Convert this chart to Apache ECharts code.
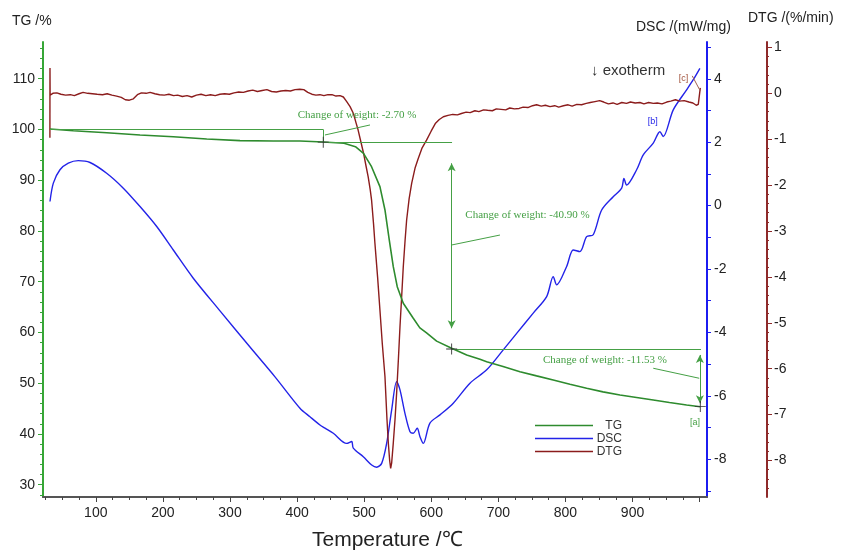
<!DOCTYPE html>
<html><head><meta charset="utf-8">
<script src="https://cdn.jsdelivr.net/npm/echarts@6/dist/echarts.min.js"></script>
<style>html,body{margin:0;padding:0;background:#fff}#c{width:845px;height:557px}</style>
</head><body><div id="c"></div>
<script>
// ---- data (temperature in °C) ----
const tgTemp = [31.7,66.5,116.2,165.9,215.5,265.3,314.9,364.5,404.3,439,470,487,499,511,523.5,531,537.4,543.4,549.3,558.3,573.2,583,593,608,630.4,652.8,672.6,682.6,707,732.2,757,781.8,806.7,831.6,856,881.3,906,930.9,955,980.6,1001];
const tgVal  = [100.1,99.76,99.37,98.92,98.58,98.13,97.8,97.73,97.73,97.54,97.28,96.61,95.31,92.67,88.73,84.14,78.23,72.97,69.03,65.75,62.8,60.9,59.9,58.3,56.89,55.57,54.72,54.25,53.3,52.28,51.45,50.64,49.8,49.0,48.3,47.68,47.2,46.7,46.2,45.71,45.38];

const dscTemp = [31.7,36.7,46.6,59,73.9,91.4,116.2,141,165.9,190.8,215.5,245.3,285.1,329.8,367.1,404.3,419.2,434.1,441.6,454,473.9,481.4,483.8,498.7,511.2,518.6,526.1,533.5,541,548.4,553.4,560.8,568.3,573.2,579.1,583.2,588.1,598,613,632.8,657.7,682.6,707.3,727.3,752,772,781.8,786.9,801.8,811.6,821.6,831.6,841.4,854,871.2,883.8,887.2,891.2,906.1,916,930.9,940.8,945.7,960.7,980.6,990.5,1000.4];
const dscVal  = [0.13,0.71,1.13,1.34,1.42,1.36,1.02,0.55,-0.03,-0.66,-1.40,-2.29,-3.32,-4.46,-5.40,-6.39,-6.66,-6.92,-7.02,-7.18,-7.50,-7.44,-7.65,-7.92,-8.18,-8.25,-8.13,-7.50,-6.44,-5.55,-5.81,-6.55,-7.13,-7.18,-7.02,-7.29,-7.50,-6.86,-6.60,-6.23,-5.60,-5.18,-4.55,-4.03,-3.39,-2.87,-2.24,-2.50,-1.92,-1.40,-1.45,-0.98,-0.92,-0.14,0.28,0.55,0.86,0.65,1.13,1.60,1.97,2.33,2.18,3.02,3.65,3.97,4.33];

const dtgTemp = [31.6,31.7,31.9,36,42,48,55,62,68,75,81,88,95,102,110,117,124,131,138,144,150,156,162,168,175,181,188,195,202,209,216,222,229,236,243,250,257,264,271,278,285,292,299,306,313,320,327,334,341,348,355,362,369,376,383,390,397,404,410,416,422,428,434,440,446,452,458,464,469,474,479,484,488,491,495,499,503,506,509,511,514,516,520,523.5,527,531,534,536,538,539.5,541,543.4,546,548.4,551,553.4,556,558.3,561,563.3,567,570.8,576,580.6,586,593,600,606,612,618,625,632,639,645,652,658,665,671,678,684,691,697,704,711,717,724,731,737,744,751,757,764,770,777,784,790,797,804,810,817,824,831,837,844,851,857,864,871,877,884,891,897,904,911,917,924,931,937,944,951,957,964,970,977,984,990,995,998,1000,1001];
const dtgVal  = [-0.97,0.55,-0.04,0.0,0.01,-0.02,-0.04,-0.03,-0.05,-0.01,0.02,0.0,-0.01,-0.02,-0.03,-0.01,-0.04,-0.06,-0.09,-0.14,-0.15,-0.12,-0.03,0.01,0.0,0.02,-0.01,-0.03,-0.04,-0.02,-0.05,-0.04,-0.07,-0.05,-0.08,-0.04,-0.02,-0.05,-0.03,-0.05,-0.02,-0.01,-0.02,0.01,0.03,0.02,0.05,0.07,0.04,0.06,0.08,0.04,0.03,0.05,0.06,0.05,0.08,0.09,0.08,0.02,-0.02,-0.04,-0.03,-0.05,-0.03,-0.03,-0.06,-0.05,-0.08,-0.18,-0.29,-0.44,-0.65,-0.80,-1.05,-1.30,-1.60,-1.82,-2.1,-2.32,-2.85,-3.26,-4.0,-4.72,-5.45,-6.17,-7.1,-7.62,-8.0,-8.17,-8.05,-7.62,-7.1,-6.53,-5.8,-5.08,-4.4,-3.78,-3.2,-2.76,-2.3,-1.96,-1.62,-1.42,-1.2,-1.02,-0.82,-0.66,-0.57,-0.51,-0.48,-0.46,-0.47,-0.44,-0.41,-0.42,-0.38,-0.40,-0.36,-0.37,-0.38,-0.34,-0.35,-0.36,-0.32,-0.34,-0.33,-0.30,-0.31,-0.27,-0.25,-0.28,-0.26,-0.29,-0.27,-0.30,-0.27,-0.25,-0.28,-0.24,-0.25,-0.22,-0.20,-0.18,-0.16,-0.19,-0.23,-0.21,-0.24,-0.20,-0.22,-0.19,-0.21,-0.20,-0.23,-0.20,-0.22,-0.21,-0.23,-0.19,-0.17,-0.14,-0.17,-0.16,-0.19,-0.21,-0.26,-0.24,-0.2,0.12];

// ---- axis ticks / labels ----
const xLabels = [100,200,300,400,500,600,700,800,900];
const xMajorTicks = [100,200,300,400,500,600,700,800,900,1000];
const xMinorTicks = [25,50,75,125,150,175,225,250,275,325,350,375,425,450,475,525,550,575,625,650,675,725,750,775,825,850,875,925,950,975];
const tgLabels = [30,40,50,60,70,80,90,100,110];
const tgMinor = [28,32,34,36,38,42,44,46,48,52,54,56,58,62,64,66,68,72,74,76,78,82,84,86,88,92,94,96,98,102,104,106,108,112,114,116];
const dscLabels = [-8,-6,-4,-2,0,2,4];
const dscTicks = [-9,-8,-7,-6,-5,-4,-3,-2,-1,0,1,2,3,4,5];
const dtgLabels = [-8,-7,-6,-5,-4,-3,-2,-1,0,1];
const dtgMinor = [];
for (let v = -8.6; v <= 1.01; v += 0.2) { const r = Math.round(v*10)/10; if (Math.abs(r - Math.round(r)) > 0.01) dtgMinor.push(r); }

// ---- annotations ----
const annoText = ['Change of weight: -2.70 %','Change of weight: -40.90 %','Change of weight: -11.53 %'];

const zip = (a,b) => a.map((x,i)=>[x,b[i]]);

const cTG = '#2e8b2e', cTGaxis = '#36a636', cAnno = '#45a045';
const cDSC = '#2323e8', cDSCaxis = '#1c1cf0';
const cDTG = '#8b1c1c', cDTGaxis = '#8e2a2a';
const sans = 'Liberation Sans, Arial, sans-serif';
const serif = 'Liberation Serif, Times New Roman, serif';

const X0 = 21.3, X1 = 1011;
const TG0 = 27.58, TG1 = 117.24;
const DSC0 = -9.19, DSC1 = 5.16;
const DTG0 = -8.795, DTG1 = 1.118;

const lbl = {fontFamily: sans, fontSize: 14, color: '#222'};
const plainLine = (a,b) => [{coord:a},{coord:b}];
const textPt = (coord, text, color, size, font) => ({
  coord, symbol:'rect', symbolSize:1, itemStyle:{color:'rgba(0,0,0,0)'},
  label:{show:true, position:'inside', formatter:text, color, fontSize:size, fontFamily:font}
});
const crossSym = 'path://M4.6,0H5.4V10H4.6Z M0,4.6H10V5.4H0Z';

const chart = echarts.init(document.getElementById('c'), null, {renderer:'canvas'});
chart.setOption({
  animation: false,
  backgroundColor: '#fff',
  grid: {left: 43, right: 138, top: 42, bottom: 60, containLabel: false},
  legend: {
    orient: 'vertical', left: 530, top: 414, itemGap: 0,
    icon: 'rect', itemWidth: 58, itemHeight: 1.5,
    data: ['TG','DSC','DTG'],
    formatter: '{a|{name}}',
    textStyle: {fontFamily: sans, fontSize: 12, color:'#333', lineHeight: 13,
      rich: {a: {width: 24, align: 'right', fontFamily: sans, fontSize: 12, color:'#333'}}}
  },
  graphic: [
    {type:'text', left: 12, top: 14, style:{text:'TG /%', font:'14px '+sans, fill:'#222'}},
    {type:'text', left: 636, top: 20, style:{text:'DSC /(mW/mg)', font:'14px '+sans, fill:'#222'}},
    {type:'text', left: 748, top: 11, style:{text:'DTG /(%/min)', font:'14px '+sans, fill:'#222'}},
    {type:'text', left: 312, top: 530, style:{text:'Temperature /℃', font:'21px '+sans, fill:'#222'}},
    {type:'text', left: 591, top: 63, style:{text:'↓ exotherm', font:'15px '+sans, fill:'#333'}}
  ],
  xAxis: [
    {type:'value', min: X0, max: X1, position:'bottom',
     axisLine:{show:true, onZero:false, lineStyle:{color:'#555', width:2}},
     axisTick:{show:true, customValues: xMajorTicks, length:5, lineStyle:{color:'#444'}},
     axisLabel:{customValues: xLabels, margin: 9, ...lbl},
     splitLine:{show:false}},
    {type:'value', min: X0, max: X1, position:'bottom',
     axisLine:{show:false, onZero:false},
     axisTick:{show:true, customValues: xMinorTicks, length:3, lineStyle:{color:'#444'}},
     axisLabel:{show:false}, splitLine:{show:false}}
  ],
  yAxis: [
    {type:'value', min: TG0, max: TG1, position:'left',
     axisLine:{show:true, onZero:false, lineStyle:{color:cTGaxis, width:2}},
     axisTick:{show:true, customValues: tgLabels, length:5, lineStyle:{color:cTGaxis}},
     axisLabel:{customValues: tgLabels, margin: 8, ...lbl},
     splitLine:{show:false}},
    {type:'value', min: DSC0, max: DSC1, position:'right',
     axisLine:{show:true, onZero:false, lineStyle:{color:cDSCaxis, width:2}},
     axisTick:{show:true, customValues: dscTicks, length:4, lineStyle:{color:cDSCaxis}},
     axisLabel:{customValues: dscLabels, margin: 7, ...lbl},
     splitLine:{show:false}},
    {type:'value', min: DTG0, max: DTG1, position:'right', offset: 60,
     axisLine:{show:true, onZero:false, lineStyle:{color:cDTGaxis, width:2}},
     axisTick:{show:true, customValues: dtgLabels, length:5, lineStyle:{color:cDTGaxis}},
     axisLabel:{customValues: dtgLabels, margin: 7, ...lbl},
     splitLine:{show:false}},
    {type:'value', min: TG0, max: TG1, position:'left',
     axisLine:{show:false, onZero:false},
     axisTick:{show:true, customValues: tgMinor, length:3, lineStyle:{color:cTGaxis}},
     axisLabel:{show:false}, splitLine:{show:false}},
    {type:'value', min: DTG0, max: DTG1, position:'right', offset: 60,
     axisLine:{show:false, onZero:false},
     axisTick:{show:true, customValues: dtgMinor, length:2, lineStyle:{color:cDTGaxis}},
     axisLabel:{show:false}, splitLine:{show:false}}
  ],
  series: [
    {name:'TG', type:'line', xAxisIndex:0, yAxisIndex:0, data: zip(tgTemp,tgVal),
     showSymbol:false, symbol:'none', lineStyle:{color:cTG, width:1.6}, itemStyle:{color:cTG}, z:3,
     markLine:{silent:true, symbol:'none', label:{show:false}, lineStyle:{color:cAnno, width:1, type:'solid'},
       data:[
         plainLine([31.7,100],[439,100]),
         plainLine([439,100],[439,97.5]),
         plainLine([439,97.5],[631,97.5]),
         plainLine([441.6,98.92],[508.7,100.89]),
         plainLine([630.4,77.24],[702.4,79.2]),
         plainLine([630.4,56.75],[1002,56.75]),
         plainLine([930.9,52.95],[999.4,50.98]),
         [{coord:[630.4,93.34], symbol:'arrow', symbolSize:[6,8]},{coord:[630.4,60.83], symbol:'arrow', symbolSize:[6,8]}],
         [{coord:[1000.4,55.57], symbol:'arrow', symbolSize:[6,8]},{coord:[1000.4,46.05], symbol:'arrow', symbolSize:[6,8]}]
       ]},
     markPoint:{silent:true, data:[
       {coord:[439,97.5], symbol:crossSym, symbolSize:11, itemStyle:{color:'#333'}, label:{show:false}},
       {coord:[630.4,56.75], symbol:crossSym, symbolSize:11, itemStyle:{color:'#333'}, label:{show:false}},
       {coord:[1001,45.4], symbol:crossSym, symbolSize:11, itemStyle:{color:'#333'}, label:{show:false}},
       textPt([489.5,102.86], annoText[0], cAnno, 11, serif),
       textPt([743.4,83.15], annoText[1], cAnno, 11, serif),
       textPt([858.8,54.48], annoText[2], cAnno, 11, serif),
       textPt([993,42.3], '[a]', cAnno, 9, sans)
     ]}},
    {name:'DSC', type:'line', xAxisIndex:0, yAxisIndex:1, data: zip(dscTemp,dscVal),
     showSymbol:false, symbol:'none', smooth:0.3, lineStyle:{color:cDSC, width:1.4}, itemStyle:{color:cDSC}, z:2,
     markPoint:{silent:true, data:[ textPt([930,2.64], '[b]', cDSC, 9, sans) ]}},
    {name:'DTG', type:'line', xAxisIndex:0, yAxisIndex:2, data: zip(dtgTemp,dtgVal),
     showSymbol:false, symbol:'none', lineStyle:{color:cDTG, width:1.4}, itemStyle:{color:cDTG}, z:2,
     markLine:{silent:true, symbol:'none', label:{show:false}, lineStyle:{color:'#a06050', width:1, type:'solid'},
       data:[ plainLine([989,0.38],[1001,0.05]) ]},
     markPoint:{silent:true, data:[ textPt([976,0.33], '[c]', '#a0503a', 9, sans) ]}}
  ]
});
</script>
</body></html>
